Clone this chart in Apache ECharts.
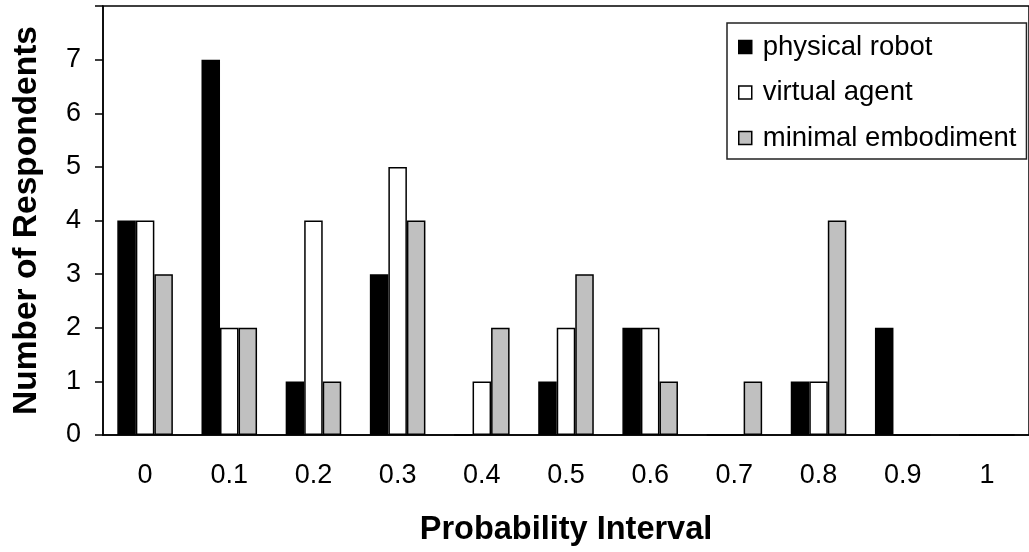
<!DOCTYPE html>
<html>
<head>
<meta charset="utf-8">
<script src="https://cdn.jsdelivr.net/npm/echarts@6/dist/echarts.min.js"></script>
<style>html,body{margin:0;padding:0;background:#fff;}#c{width:1029px;height:552px;}</style>
</head>
<body>
<div id="c"></div>
<script>
var categories = ['0','0.1','0.2','0.3','0.4','0.5','0.6','0.7','0.8','0.9','1'];
var physicalRobot = [4,7,1,3,0,1,2,0,1,2,0];
var virtualAgent = [4,2,4,5,1,2,2,0,1,0,0];
var minimalEmbodiment = [3,2,1,4,2,3,1,1,4,0,0];
var yTicks = [0,1,2,3,4,5,6,7];

var FONT = 'Liberation Sans, Arial, sans-serif';
var chart = echarts.init(document.getElementById('c'));
function bar(name, data, color) {
  return {
    name: name, type: 'bar', data: data,
    barGap: '0%', barCategoryGap: '34%',
    itemStyle: {color: color, borderColor: '#000', borderWidth: 1.5},
    emphasis: {disabled: true}
  };
}
chart.setOption({
  animation: false,
  textStyle: {fontFamily: FONT},
  grid: {left: 103, top: 6, right: -12, bottom: 116, show: true, borderColor: '#000', borderWidth: 1.5, backgroundColor: 'transparent'},
  legend: {
    orient: 'vertical', left: 727, top: 23,
    borderColor: '#222', borderWidth: 1.5,
    padding: [10, 10, 7, 11],
    itemGap: 17.5, itemWidth: 13, itemHeight: 13,
    icon: 'rect',
    itemStyle: {borderColor: '#000', borderWidth: 1.5},
    textStyle: {fontSize: 27.5, color: '#000', fontFamily: FONT, padding: [0, 0, 0, 6]},
    data: ['physical robot', 'virtual agent', 'minimal embodiment']
  },
  xAxis: {
    type: 'category', data: categories,
    name: 'Probability Interval', nameLocation: 'middle', nameGap: 79,
    nameTextStyle: {fontSize: 32.5, fontWeight: 'bold', color: '#000', fontFamily: FONT},
    axisLine: {lineStyle: {color: '#000', width: 1.5}},
    axisTick: {length: 8, lineStyle: {color: '#000', width: 1.5}},
    axisLabel: {fontSize: 27, color: '#000', margin: 27, fontFamily: FONT}
  },
  yAxis: {
    type: 'value', min: 0, max: 8, interval: 1,
    name: 'Number of Respondents', nameLocation: 'middle', nameGap: 59,
    nameTextStyle: {fontSize: 33.5, fontWeight: 'bold', color: '#000', fontFamily: FONT},
    axisLine: {show: true, lineStyle: {color: '#000', width: 1.5}},
    axisTick: {show: true, length: 8, lineStyle: {color: '#000', width: 1.5}},
    splitLine: {show: false},
    axisLabel: {fontSize: 27, color: '#000', margin: 22, fontFamily: FONT,
      formatter: function (v) { return yTicks.indexOf(v) >= 0 ? String(v) : ''; }}
  },
  series: [
    bar('physical robot', physicalRobot, '#000000'),
    bar('virtual agent', virtualAgent, '#ffffff'),
    bar('minimal embodiment', minimalEmbodiment, '#c0c0c0')
  ]
});
</script>
</body>
</html>
